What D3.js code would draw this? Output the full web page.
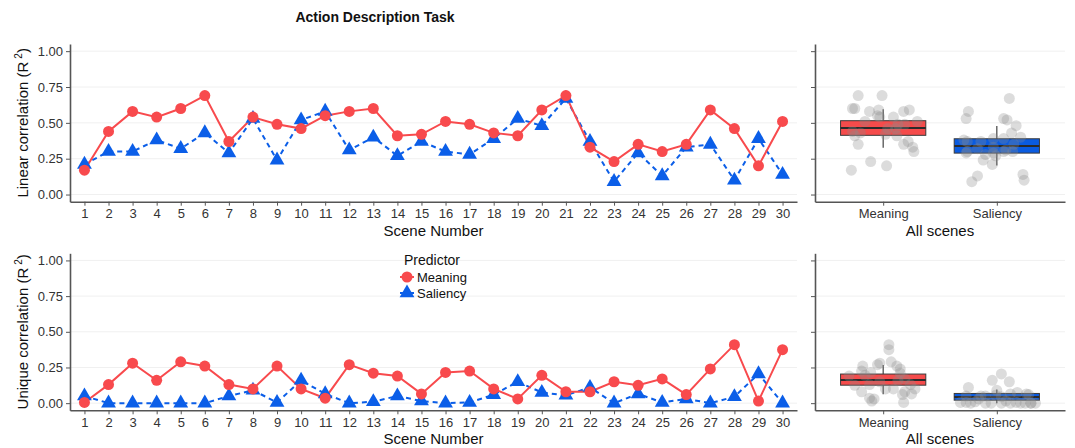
<!DOCTYPE html>
<html>
<head>
<meta charset="utf-8">
<script src="https://cdn.jsdelivr.net/npm/d3@7"></script>
<style>
  body { margin: 0; background: #fff; }
  text { font-family: "Liberation Sans", Arial, sans-serif; }
</style>
</head>
<body>
<svg id="chart" width="1075" height="448"></svg>
<script>
// Datos por escena
const scenes = [1,2,3,4,5,6,7,8,9,10,11,12,13,14,15,16,17,18,19,20,21,22,23,24,25,26,27,28,29,30];
const predictors = ['Meaning', 'Saliency'];
const yTicks = [0, 0.25, 0.5, 0.75, 1];

const linearMeaning = [0.17,0.44,0.58,0.54,0.60,0.69,0.37,0.54,0.49,0.46,0.55,0.58,0.60,0.41,0.42,0.51,0.49,0.43,0.41,0.59,0.69,0.33,0.23,0.35,0.30,0.35,0.59,0.46,0.20,0.51];
const linearSaliency = [0.21,0.30,0.30,0.38,0.32,0.43,0.29,0.53,0.24,0.52,0.58,0.31,0.40,0.27,0.37,0.30,0.28,0.39,0.53,0.48,0.67,0.37,0.09,0.29,0.13,0.33,0.35,0.10,0.39,0.14];
const uniqueMeaning = [0.005,0.13,0.28,0.16,0.29,0.26,0.13,0.10,0.26,0.10,0.035,0.27,0.21,0.19,0.065,0.215,0.225,0.10,0.03,0.195,0.08,0.08,0.15,0.125,0.17,0.06,0.24,0.41,0.015,0.375];
const uniqueSaliency = [0.05,0,0,0,0,0,0.05,0.09,0.005,0.16,0.065,0,0.01,0.05,0.015,0,0.005,0.06,0.15,0.075,0.055,0.11,0,0.065,0.005,0.03,0,0.045,0.205,0];

// Cajas: [bigote inf, Q1, mediana, Q3, bigote sup]
const linearBoxMeaning = [0.326,0.413,0.464,0.515,0.594];
const linearBoxSaliency = [0.203,0.289,0.338,0.389,0.478];
const uniqueBoxMeaning = [0.063,0.126,0.162,0.204,0.267];
const uniqueBoxSaliency = [0,0.021,0.044,0.068,0.096];

// Desplazamiento horizontal de los puntos (jitter, en unidades de categoría)
const jitterLinearMeaning = [-0.28,-0.27,-0.12,-0.03,-0.27,-0.22,0.22,0.09,0.13,0.04,-0.05,0.18,-0.25,-0.25,0.02,0.30,0.19,-0.20,0.12,-0.04,-0.01,0.26,-0.11,-0.22,0.27,0.18,0.23,0.11,0.03,-0.16];
const jitterLinearSaliency = [-0.04,-0.26,0.06,-0.29,-0.17,0.13,-0.03,0.06,-0.12,0.09,-0.25,0.08,0.21,-0.01,-0.14,0.14,-0.10,0.06,-0.27,0.17,0.11,-0.26,-0.22,-0.27,-0.17,-0.03,0.15,0.24,-0.03,0.23];
const jitterUniqueMeaning = [0.18,-0.12,-0.03,0.13,0.07,-0.18,0.24,0.09,0.12,0.28,-0.12,-0.05,0.15,-0.30,0.25,-0.11,-0.19,0.02,-0.08,-0.16,-0.19,0.19,-0.03,-0.25,0.19,0.17,0.15,0.05,-0.10,0.05];
const jitterUniqueSaliency = [-0.27,-0.23,-0.10,0.12,0.30,0.04,-0.14,0,-0.27,-0.04,0.26,0.34,-0.19,-0.10,0.08,0.21,-0.32,0.28,0.11,0.18,-0.01,-0.25,-0.05,0.12,0.17,-0.16,0.25,0.04,0.04,0.30];

const colors = { Meaning: '#f84a4d', Saliency: '#0b5ee8' };
const boxFill = { Meaning: '#f54b4b', Saliency: '#0a5be0' };

const svg = d3.select('#chart');

const panels = [
  { top: 44, bottom: 201.7, title: 'Linear correlation (R', meaning: linearMeaning, saliency: linearSaliency,
    boxes: [linearBoxMeaning, linearBoxSaliency], jitter: [jitterLinearMeaning, jitterLinearSaliency] },
  { top: 253.3, bottom: 410.3, title: 'Unique correlation (R', meaning: uniqueMeaning, saliency: uniqueSaliency,
    boxes: [uniqueBoxMeaning, uniqueBoxSaliency], jitter: [jitterUniqueMeaning, jitterUniqueSaliency] }
];

const xLeft = d3.scaleLinear().domain([0.4, 30.6]).range([70, 797]);
const xRight = d3.scalePoint().domain(predictors).range([815, 1065]).padding(0.6);

function styleAxis(g) {
  g.select('.domain').attr('stroke', '#555').attr('stroke-width', 1.6);
  g.selectAll('.tick line').attr('stroke', '#555').attr('stroke-width', 1);
  g.selectAll('.tick text').attr('fill', '#333').style('font-size', '13px');
}

panels.forEach(p => {
  const y = d3.scaleLinear().domain([-0.05, 1.05]).range([p.bottom, p.top]);

  // Rejilla
  [[70, 797], [815, 1065]].forEach(([x0, x1]) => {
    svg.append('g').selectAll('line').data(yTicks).join('line')
      .attr('x1', x0).attr('x2', x1)
      .attr('y1', d => y(d)).attr('y2', d => y(d))
      .attr('stroke', '#f0f0f0').attr('stroke-width', 1);
  });

  // Panel izquierdo: líneas por escena
  const series = [
    { name: 'Meaning', values: p.meaning, dash: null },
    { name: 'Saliency', values: p.saliency, dash: '5,4' }
  ];
  const line = d3.line().x((d, i) => xLeft(scenes[i])).y(d => y(d));
  series.slice().reverse().forEach(s => {
    svg.append('path').datum(s.values)
      .attr('d', line)
      .attr('fill', 'none')
      .attr('stroke', colors[s.name])
      .attr('stroke-width', 2)
      .attr('stroke-dasharray', s.dash);
  });
  svg.append('g').selectAll('path').data(p.saliency).join('path')
    .attr('d', d3.symbol(d3.symbolTriangle, 95))
    .attr('transform', (d, i) => `translate(${xLeft(scenes[i])},${y(d)})`)
    .attr('fill', colors.Saliency);
  svg.append('g').selectAll('circle').data(p.meaning).join('circle')
    .attr('cx', (d, i) => xLeft(scenes[i]))
    .attr('cy', d => y(d))
    .attr('r', 5.5)
    .attr('fill', colors.Meaning);

  // Ejes panel izquierdo
  svg.append('g').attr('transform', `translate(0,${p.bottom})`)
    .call(d3.axisBottom(xLeft).tickValues(scenes).tickFormat(d3.format('d')).tickSize(4).tickPadding(3).tickSizeOuter(0))
    .call(styleAxis);
  svg.append('g').attr('transform', 'translate(70,0)')
    .call(d3.axisLeft(y).tickValues(yTicks).tickFormat(d3.format('.2f')).tickSize(4).tickPadding(3).tickSizeOuter(0))
    .call(styleAxis);

  // Panel derecho: cajas y puntos
  const bw = xRight.step() * 0.75;
  predictors.forEach((name, k) => {
    const b = p.boxes[k];
    const cx = xRight(name);
    const g = svg.append('g');
    g.append('line').attr('x1', cx).attr('x2', cx).attr('y1', y(b[0])).attr('y2', y(b[4]))
      .attr('stroke', '#444').attr('stroke-width', 1.2);
    g.append('rect').attr('x', cx - bw / 2).attr('width', bw)
      .attr('y', y(b[3])).attr('height', y(b[1]) - y(b[3]))
      .attr('fill', boxFill[name]).attr('stroke', '#3a3a3a').attr('stroke-width', 1);
    g.append('line').attr('x1', cx - bw / 2).attr('x2', cx + bw / 2).attr('y1', y(b[2])).attr('y2', y(b[2]))
      .attr('stroke', '#2a2a2a').attr('stroke-width', 2);
    const vals = k === 0 ? p.meaning : p.saliency;
    g.append('g').selectAll('circle').data(vals).join('circle')
      .attr('cx', (d, i) => cx + p.jitter[k][i] * xRight.step())
      .attr('cy', d => y(d))
      .attr('r', 5.5)
      .attr('fill', '#8c8c8c')
      .attr('fill-opacity', 0.3);
  });

  svg.append('g').attr('transform', `translate(0,${p.bottom})`)
    .call(d3.axisBottom(xRight).tickSize(4).tickPadding(3).tickSizeOuter(0))
    .call(styleAxis);
  svg.append('g').attr('transform', 'translate(815,0)')
    .call(d3.axisLeft(y).tickValues(yTicks).tickFormat('').tickSize(4).tickSizeOuter(0))
    .call(styleAxis);

  // Títulos de ejes
  svg.append('text').attr('x', 433.5).attr('y', p.bottom + 34)
    .attr('text-anchor', 'middle').style('font-size', '15px').attr('fill', '#111')
    .text('Scene Number');
  svg.append('text').attr('x', 940).attr('y', p.bottom + 34)
    .attr('text-anchor', 'middle').style('font-size', '15px').attr('fill', '#111')
    .text('All scenes');
  const yt = svg.append('text')
    .attr('transform', `translate(28,${(p.top + p.bottom) / 2}) rotate(-90)`)
    .attr('text-anchor', 'middle').style('font-size', '15px').attr('fill', '#111');
  yt.append('tspan').text(p.title);
  yt.append('tspan').attr('dx', 3).attr('dy', -6).style('font-size', '10px').text('2');
  yt.append('tspan').attr('dy', 6).text(')');
});

// Título
svg.append('text').attr('x', 375).attr('y', 22)
  .attr('text-anchor', 'middle').style('font-size', '14px').style('font-weight', 'bold').attr('fill', '#111')
  .text('Action Description Task');

// Leyenda
const legend = svg.append('g');
legend.append('text').attr('x', 404).attr('y', 265).style('font-size', '14px').attr('fill', '#111').text('Predictor');
legend.append('circle').attr('cx', 407).attr('cy', 277).attr('r', 5.5).attr('fill', colors.Meaning);
legend.append('line').attr('x1', 400).attr('x2', 414).attr('y1', 277).attr('y2', 277)
  .attr('stroke', colors.Meaning).attr('stroke-width', 2);
legend.append('path').attr('d', d3.symbol(d3.symbolTriangle, 95))
  .attr('transform', 'translate(407,293)').attr('fill', colors.Saliency);
legend.append('line').attr('x1', 400).attr('x2', 414).attr('y1', 293).attr('y2', 293)
  .attr('stroke', colors.Saliency).attr('stroke-width', 2).attr('stroke-dasharray', '5,4');
legend.selectAll('text.lab').data(predictors).join('text').attr('class', 'lab')
  .attr('x', 417).attr('y', (d, i) => 282 + i * 16)
  .style('font-size', '13px').attr('fill', '#111').text(d => d);
</script>
</body>
</html>
